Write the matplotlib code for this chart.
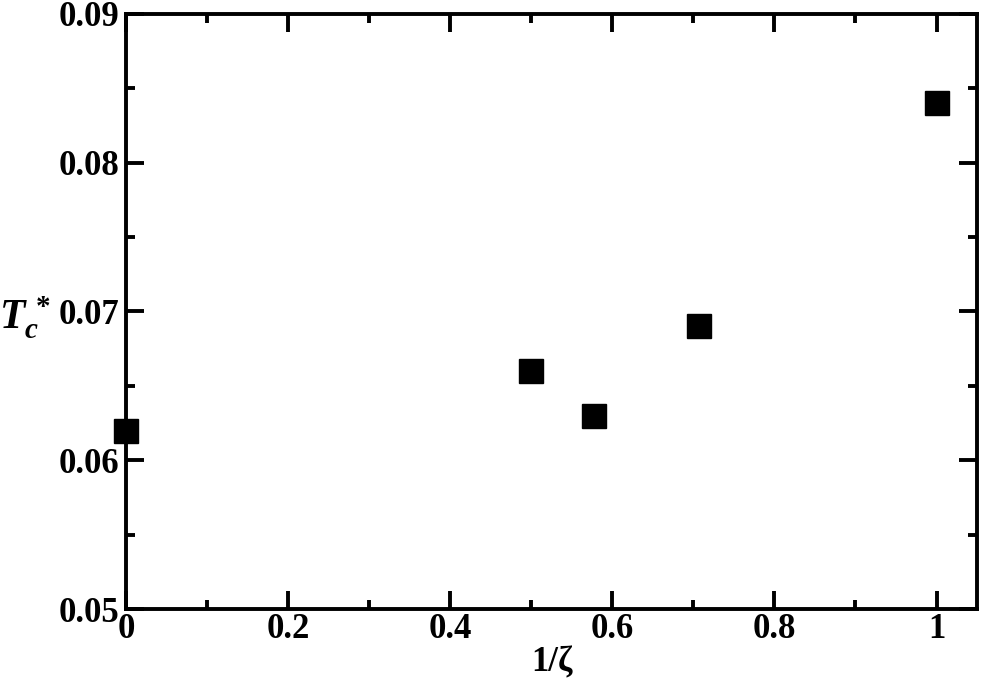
import matplotlib
matplotlib.use("Agg")
import matplotlib.pyplot as plt
from matplotlib.ticker import MultipleLocator

plt.rcParams['font.family'] = ['Liberation Serif', 'DejaVu Serif']
plt.rcParams['mathtext.fontset'] = 'custom'
plt.rcParams['mathtext.rm'] = 'Liberation Serif:bold'
plt.rcParams['mathtext.it'] = 'Liberation Serif:bold:italic'
plt.rcParams['mathtext.bf'] = 'Liberation Serif:bold'

# data
inv_zeta = [0.0, 0.5, 0.577, 0.707, 1.0]
tc_star = [0.062, 0.066, 0.063, 0.069, 0.084]

x_ticks = [0, 0.2, 0.4, 0.6, 0.8, 1.0]
x_labels = ["0", "0.2", "0.4", "0.6", "0.8", "1"]
y_ticks = [0.05, 0.06, 0.07, 0.08, 0.09]
y_labels = ["0.05", "0.06", "0.07", "0.08", "0.09"]

fig = plt.figure(figsize=(9.81, 6.88), dpi=100)
ax = fig.add_axes([0.1284, 0.1148, 0.996 - 0.1284, 0.9797 - 0.1148])

ax.plot(inv_zeta, tc_star, linestyle="none", marker="s", markersize=17,
        color="black", clip_on=False, zorder=5)

ax.set_xlim(0, 1.05)
ax.set_ylim(0.05, 0.09)
ax.set_xticks(x_ticks)
ax.set_xticklabels(x_labels)
ax.set_yticks(y_ticks)
ax.set_yticklabels(y_labels)
ax.xaxis.set_minor_locator(MultipleLocator(0.1))
ax.yaxis.set_minor_locator(MultipleLocator(0.005))

for sp in ax.spines.values():
    sp.set_linewidth(2.8)

ax.tick_params(which="both", direction="in", top=True, right=True, width=2.8)
ax.tick_params(which="major", length=13, labelsize=25)
ax.tick_params(axis="x", which="major", pad=3)
ax.tick_params(axis="y", which="major", pad=5)
ax.tick_params(which="minor", length=6.5)
for lab in ax.get_xticklabels() + ax.get_yticklabels():
    lab.set_fontweight("bold")

ax.set_xlabel("1/ζ", fontsize=25, fontweight="bold", labelpad=0)
ax.set_ylabel(r"$T_c^{\,*}$", fontsize=30, rotation=0, va="center", ha="center")
ax.yaxis.set_label_coords(-0.119, 0.49)

fig.savefig("out.png", dpi=100)
